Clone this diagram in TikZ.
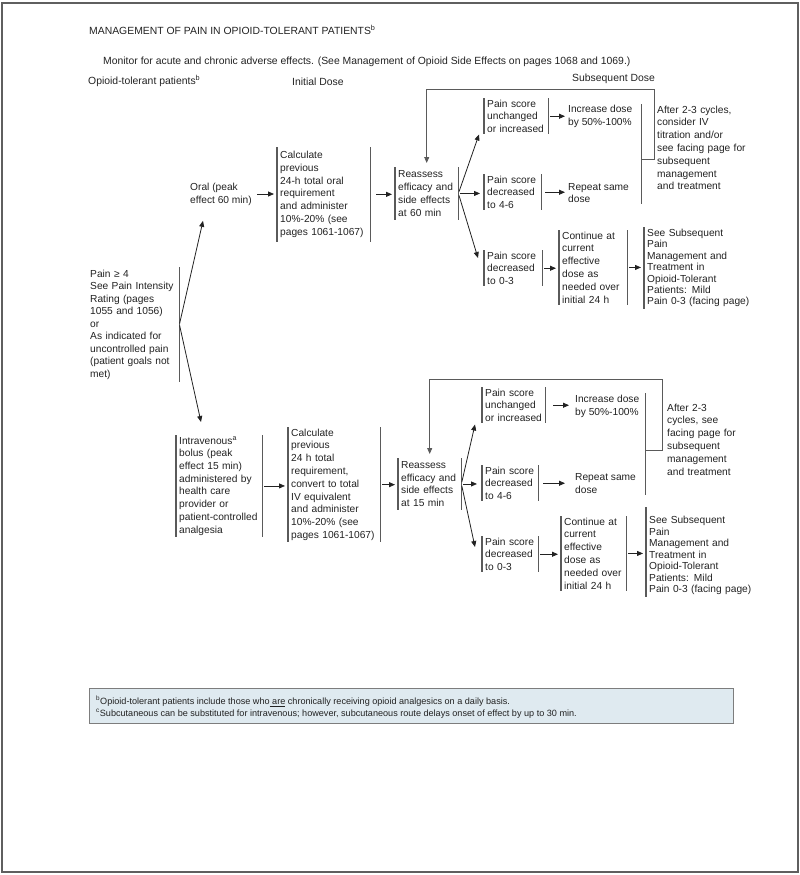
\documentclass[tikz,border=0pt]{standalone}
\usepackage{fontspec}
\setmainfont{Liberation Sans}
\usetikzlibrary{arrows.meta,fit,positioning}
\definecolor{pkink}{RGB}{34,34,34}
\definecolor{pkrule}{RGB}{90,90,90}
\definecolor{pkframe}{RGB}{95,95,95}
\definecolor{pknote}{RGB}{223,234,240}
\definecolor{pknoteline}{RGB}{125,125,125}
\newcommand{\pksup}[1]{\textsuperscript{#1}}
\tikzset{
  pkstep/.style={anchor=north west, align=left, inner xsep=3pt, inner ysep=1.5pt},
  pktext/.style={anchor=west, align=left, inner xsep=3pt, inner ysep=1.5pt},
  pkhead/.style={anchor=west, inner sep=0pt, font=\fontsize{10.4}{12.6}\selectfont},
  pkbar/.style={draw=pkrule, line width=1.1pt},
  pkarr/.style={-{Triangle[length=6pt,width=5pt]}, draw=pkink, line width=0.8pt, shorten <=2pt, shorten >=3pt},
  pkloop/.style={-{Triangle[length=6pt,width=5pt]}, draw=pkrule, line width=0.8pt, shorten >=4pt},
  pknotetext/.style={anchor=north west, align=left, inner sep=0pt, font=\fontsize{9.1}{12}\selectfont}
}

\begin{document}
\begin{tikzpicture}[x=1pt, y=-1pt, font=\fontsize{10.2}{12.8}\selectfont, text=pkink]
  \useasboundingbox (0,0) rectangle (800,875);
  \draw[draw=pkframe, line width=1.2pt] (2,3) rectangle (798,872);
  \node[pkhead] (title) at (89,30) {MANAGEMENT OF PAIN IN OPIOID-TOLERANT PATIENTS\pksup{b}};
  \node[pkhead] (monitor) at (103,62) {Monitor for acute and chronic adverse effects. (See Management of Opioid Side Effects on pages 1068 and 1069.)};
  \node[pkhead] (hpat) at (88,81) {Opioid-tolerant patients\pksup{b}};
  \node[pkhead] (hinit) at (292,82) {Initial Dose};
  \node[pkhead] (hsub) at (572,79) {Subsequent Dose};

  \node[pkstep, text width=86pt, inner ysep=2.5pt, font=\fontsize{10.2}{12.5}\selectfont] (pain) at (87,267) {Pain ≥ 4\\See Pain Intensity\\Rating (pages\\1055 and 1056)\\or\\As indicated for\\uncontrolled pain\\(patient goals not\\met)};

  \node[pktext] (oral) at (187,194) {Oral (peak\\effect 60 min)};
  \node[pkstep, text width=87pt, inner ysep=4pt] (calc1) at (277,147) {Calculate\\previous\\24-h total oral\\requirement\\and administer\\10\%-20\% (see\\pages 1061-1067)};
  \node[pkstep, text width=57pt, inner ysep=3.5pt] (reas1) at (395,167) {Reassess\\efficacy and\\side effects\\at 60 min};
  \node[pkstep, text width=58pt] (pu1) at (484,98) {Pain score\\unchanged\\or increased};
  \node[pkstep, text width=51pt] (pm1) at (484,174) {Pain score\\decreased\\to 4-6};
  \node[pkstep, text width=52pt] (pl1) at (484,250) {Pain score\\decreased\\to 0-3};
  \node[pktext] (inc1) at (565,116.5) {Increase dose\\by 50\%-100\%};
  \node[pktext] (rep1) at (565,193) {Repeat same\\dose};
  \node[fit=(inc1)(rep1), inner xsep=6pt, inner ysep=-1pt] (grp1) {};
  \node[pkstep, text width=110pt] (after1) at (654,104) {After 2-3 cycles,\\consider IV\\titration and/or\\see facing page for\\subsequent\\management\\and treatment};
  \node[pkstep, text width=62pt] (cont1) at (559,230) {Continue at\\current\\effective\\dose as\\needed over\\initial 24 h};
  \node[pkstep, text width=112pt, inner ysep=2pt, font=\fontsize{10.2}{11.4}\selectfont] (see1) at (644,227) {See Subsequent\\Pain\\Management and\\Treatment in\\Opioid-Tolerant\\Patients: Mild\\Pain 0-3 (facing page)};

  \node[pkstep, text width=80pt, font=\fontsize{10.2}{12.7}\selectfont] (iv) at (176,435) {Intravenous\pksup{a}\\bolus (peak\\effect 15 min)\\administered by\\health care\\provider or\\patient-controlled\\analgesia};
  \node[pkstep, text width=86pt] (calc2) at (288,427) {Calculate\\previous\\24 h total\\requirement,\\convert to total\\IV equivalent\\and administer\\10\%-20\% (see\\pages 1061-1067)};
  \node[pkstep, text width=57pt, inner ysep=3pt] (reas2) at (398,458) {Reassess\\efficacy and\\side effects\\at 15 min};
  \node[pkstep, text width=57pt] (pu2) at (482,387) {Pain score\\unchanged\\or increased};
  \node[pkstep, text width=50pt] (pm2) at (482,465) {Pain score\\decreased\\to 4-6};
  \node[pkstep, text width=50pt] (pl2) at (482,536) {Pain score\\decreased\\to 0-3};
  \node[pktext] (inc2) at (572,406.5) {Increase dose\\by 50\%-100\%};
  \node[pktext] (rep2) at (572,483.5) {Repeat same\\dose};
  \node[fit=(inc2)(rep2), inner xsep=2.5pt, inner ysep=0pt] (grp2) {};
  \node[pkstep, text width=110pt] (after2) at (664,402) {After 2-3\\cycles, see\\facing page for\\subsequent\\management\\and treatment};
  \node[pkstep, text width=59pt] (cont2) at (561,516) {Continue at\\current\\effective\\dose as\\needed over\\initial 24 h};
  \node[pkstep, text width=112pt, inner ysep=2pt, font=\fontsize{10.2}{11.5}\selectfont] (see2) at (646,514) {See Subsequent\\Pain\\Management and\\Treatment in\\Opioid-Tolerant\\Patients: Mild\\Pain 0-3 (facing page)};

  \foreach \n in {calc1,reas1,pu1,pm1,pl1,cont1,iv,calc2,reas2,pu2,pm2,pl2,cont2}
    \draw[pkbar] (\n.north west) -- (\n.south west) (\n.north east) -- (\n.south east);
  \draw[pkbar] (pain.north east) -- (pain.south east);
  \draw[pkbar] (see1.north west) -- (see1.south west);
  \draw[pkbar] ([yshift=7pt]see2.north west) -- (see2.south west);
  \draw[pkbar] (grp1.north east) -- (grp1.south east);
  \draw[pkbar] (grp2.north east) -- (grp2.south east);

  \draw[pkarr, shorten <=1pt, shorten >=0pt] (pain.east) -- ([xshift=16pt,yshift=-14pt]oral.south west);
  \draw[pkarr, shorten <=1pt, shorten >=0pt] (pain.east) -- ([xshift=25pt,yshift=13pt]iv.north west);

  \draw[pkarr] (oral.east) -- (oral.east -| calc1.west);
  \draw[pkarr, shorten <=6pt] (calc1.east) -- (calc1.east -| reas1.west);
  \draw[pkarr, shorten >=0pt] (reas1.east) -- ([xshift=-5pt]pu1.south west);
  \draw[pkarr, shorten >=4pt] (reas1.east) -- (reas1.east -| pm1.west);
  \draw[pkarr, shorten >=0pt] (reas1.east) -- ([xshift=-6pt,yshift=-8pt]pl1.north west);
  \draw[pkarr, shorten >=0pt] (pu1.east) -- (pu1.east -| inc1.west);
  \draw[pkarr, shorten <=4pt, shorten >=0pt] (pm1.east) -- (pm1.east -| rep1.west);
  \draw[pkarr] (pl1.east) -- (pl1.east -| cont1.west);
  \draw[pkarr] (cont1.east) -- (cont1.east -| see1.west);
  \draw[pkloop] ([yshift=-5pt]grp1.east) -- ++(13,0) |- ([yshift=78pt]reas1.north) -- (reas1.north);

  \draw[pkarr] (iv.east) -- (iv.east -| calc2.west);
  \draw[pkarr] (calc2.east) -- (calc2.east -| reas2.west);
  \draw[pkarr, shorten >=0pt] (reas2.east) -- ([xshift=-7pt,yshift=-1pt]pu2.south west);
  \draw[pkarr, shorten >=5pt] (reas2.east) -- (reas2.east -| pm2.west);
  \draw[pkarr, shorten >=0pt] (reas2.east) -- ([xshift=-7pt,yshift=-11pt]pl2.north west);
  \draw[pkarr, shorten <=8pt] (pu2.east) -- (pu2.east -| inc2.west);
  \draw[pkarr, shorten <=5pt, shorten >=7pt] (pm2.east) -- (pm2.east -| rep2.west);
  \draw[pkarr] (pl2.east) -- (pl2.east -| cont2.west);
  \draw[pkarr] (cont2.east) -- (cont2.east -| see2.west);
  \draw[pkloop] ([yshift=-5.5pt]grp2.east) -- ++(17,0) |- ([yshift=79pt]reas2.north) -- (reas2.north);

  \node[draw=pknoteline, fill=pknote, line width=1pt, anchor=north west, minimum width=644pt, minimum height=35pt, inner sep=0pt] (notebox) at (89,688) {};
  \node[pknotetext] (notetext) at ([xshift=7pt,yshift=-8pt]notebox.north west) {\pksup{b}Opioid-tolerant patients include those who\underline{\ are} chronically receiving opioid analgesics on a daily basis.\\\pksup{c}Subcutaneous can be substituted for intravenous; however, subcutaneous route delays onset of effect by up to 30 min.};
\end{tikzpicture}
\end{document}
